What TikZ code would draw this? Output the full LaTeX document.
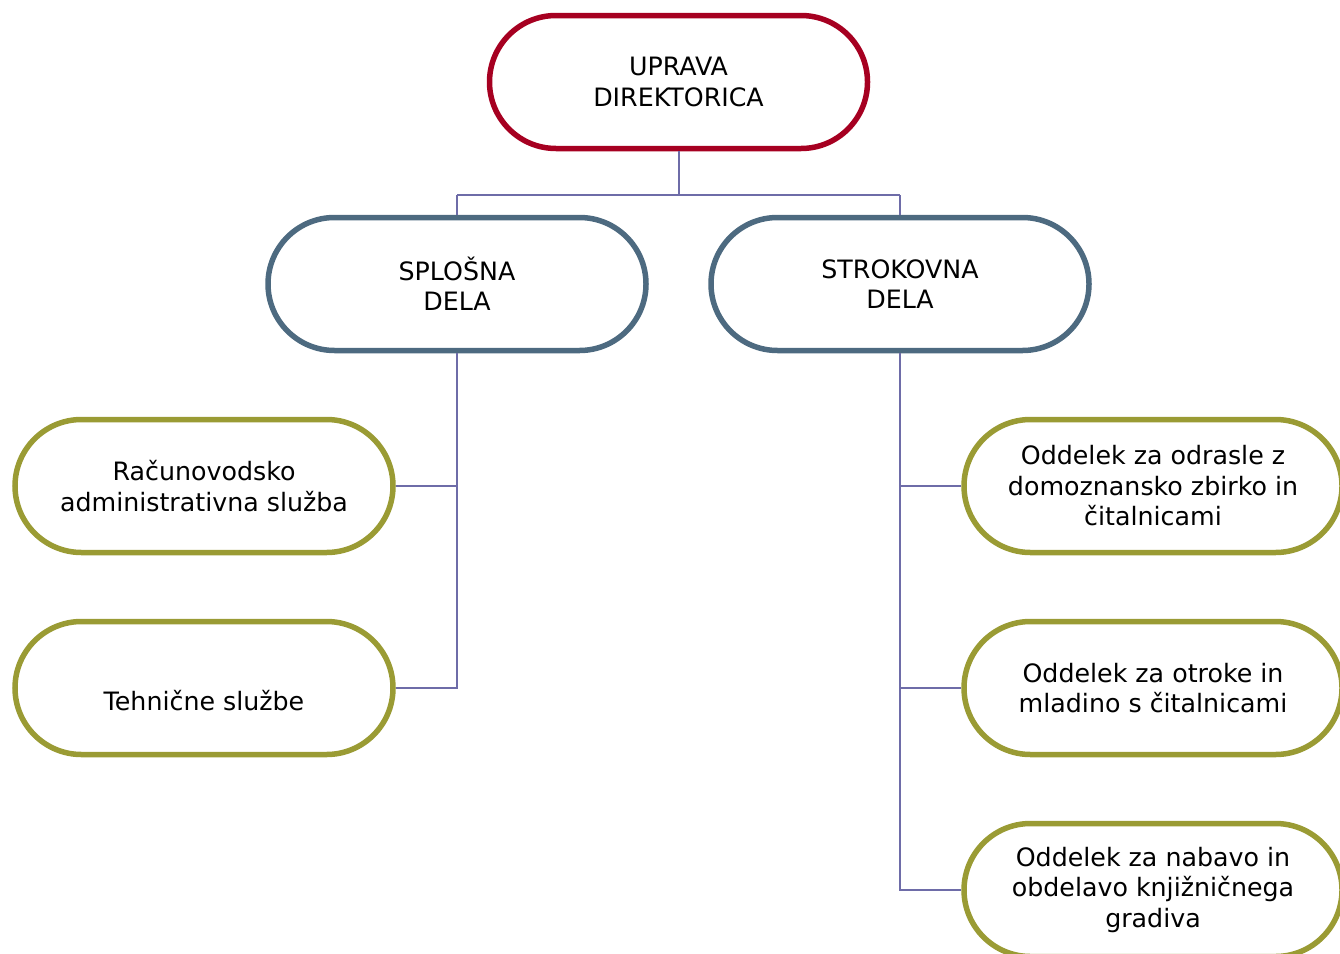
\documentclass[tikz,border=0pt]{standalone}
\usepackage{fontspec}
\setmainfont{DejaVu Sans}
\usetikzlibrary{shapes.misc}
\definecolor{topred}{RGB}{166,0,33}
\definecolor{midblue}{RGB}{77,106,128}
\definecolor{olive}{RGB}{154,155,52}
\definecolor{linkc}{RGB}{110,108,168}
\tikzset{
  pill/.style={rounded rectangle, draw, line width=5.5pt, fill=white,
    minimum width=378pt, minimum height=133pt, inner sep=0pt,
    align=center, font=\fontsize{25.3}{30.5}\selectfont},
  toppill/.style={pill, draw=topred},
  midpill/.style={pill, draw=midblue},
  leafpill/.style={pill, draw=olive},
  link/.style={draw=linkc, line width=2pt}
}
\begin{document}
\begin{tikzpicture}[x=1pt,y=-1pt]
\useasboundingbox (0,0) rectangle (1340,953);
\coordinate (j0) at (678.5,195);
\coordinate (jl) at (457,195);
\coordinate (jr) at (900,195);
\node[toppill] (up) at (678.5,82) {UPRAVA\\DIREKTORICA};
\node[midpill] (sp) at (457,284) {SPLOŠNA\\DELA};
\node[midpill] (st) at (900,284) {STROKOVNA\\DELA};
\node[leafpill] (ra) at (204,486) {Računovodsko\\administrativna služba};
\node[leafpill] (te) at (204,688) {\raisebox{-22pt}[0pt][0pt]{Tehnične službe}};
\node[leafpill] (o1) at (1153,486) {Oddelek za odrasle z\\domoznansko zbirko in\\čitalnicami};
\node[leafpill] (o2) at (1153,688) {Oddelek za otroke in\\mladino s čitalnicami};
\node[leafpill] (o3) at (1153,890) {Oddelek za nabavo in\\obdelavo knjižničnega\\gradiva};
\draw[link] (up.south) -- (j0);
\draw[link] (jl) -- (jr);
\draw[link] (jl) -- (sp.north);
\draw[link] (jr) -- (st.north);
\draw[link] (sp.south) |- (te.east);
\draw[link] (ra.east) -- (ra.east -| sp.south);
\draw[link] (st.south) |- (o3.west);
\draw[link] (o1.west) -- (o1.west -| st.south);
\draw[link] (o2.west) -- (o2.west -| st.south);
\end{tikzpicture}
\end{document}
